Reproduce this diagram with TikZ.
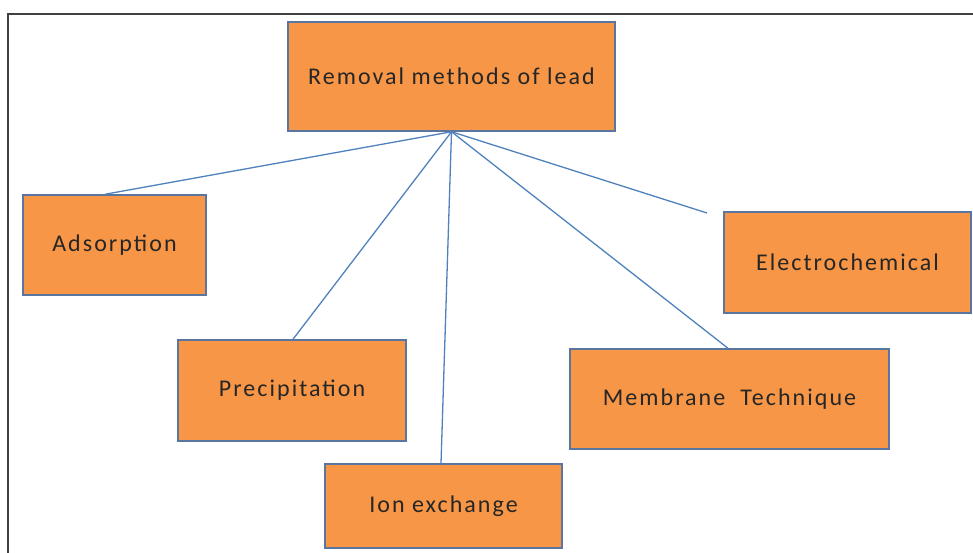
\documentclass[tikz,border=0pt]{standalone}
\usepackage{fontspec}
\setmainfont{Carlito}[LetterSpace=8.5]
\usetikzlibrary{calc}
\definecolor{boxfill}{HTML}{F79646}
\definecolor{boxdraw}{HTML}{5A76A0}
\definecolor{linkc}{HTML}{4F81BD}
\begin{document}
\begin{tikzpicture}[x=1pt,y=-1pt,
  mbox/.style={draw=boxdraw,line width=1.5pt,fill=boxfill,inner sep=0pt,
    font=\fontsize{24}{28}\selectfont,text=black!85},
  link/.style={draw=linkc,line width=1.3pt}]
\useasboundingbox (0,0) rectangle (973,552);
\draw[line width=1.6pt,black!75] (8,553) -- (8,14) -- (974,14);
\node[mbox,minimum width=327pt,minimum height=109pt] (root) at (451.5,76.5) {Removal methods of lead};
\node[mbox,minimum width=183pt,minimum height=100pt] (ads) at (114.5,245) {Adsorption};
\node[mbox,minimum width=228pt,minimum height=101pt] (prec) at (292,390.5) {Precipitation};
\node[mbox,minimum width=237pt,minimum height=84pt] (ion) at (443.5,506) {Ion exchange};
\node[mbox,minimum width=319pt,minimum height=100pt] (mem) at (729.5,399) {Membrane~~Technique};
\node[mbox,minimum width=247pt,minimum height=101pt] (elec) at (847.5,262.5) {Electrochemical};
\coordinate (efree) at (707,213);
\draw[link] (root.south) -- ($(ads.north)+(-9.5,0)$);
\draw[link] (root.south) -- ($(prec.north)+(1,0)$);
\draw[link] (root.south) -- ($(ion.north)+(-2.5,0)$);
\draw[link] (root.south) -- ($(mem.north)+(-1.5,0)$);
\draw[link] (root.south) -- (efree);
\end{tikzpicture}
\end{document}
